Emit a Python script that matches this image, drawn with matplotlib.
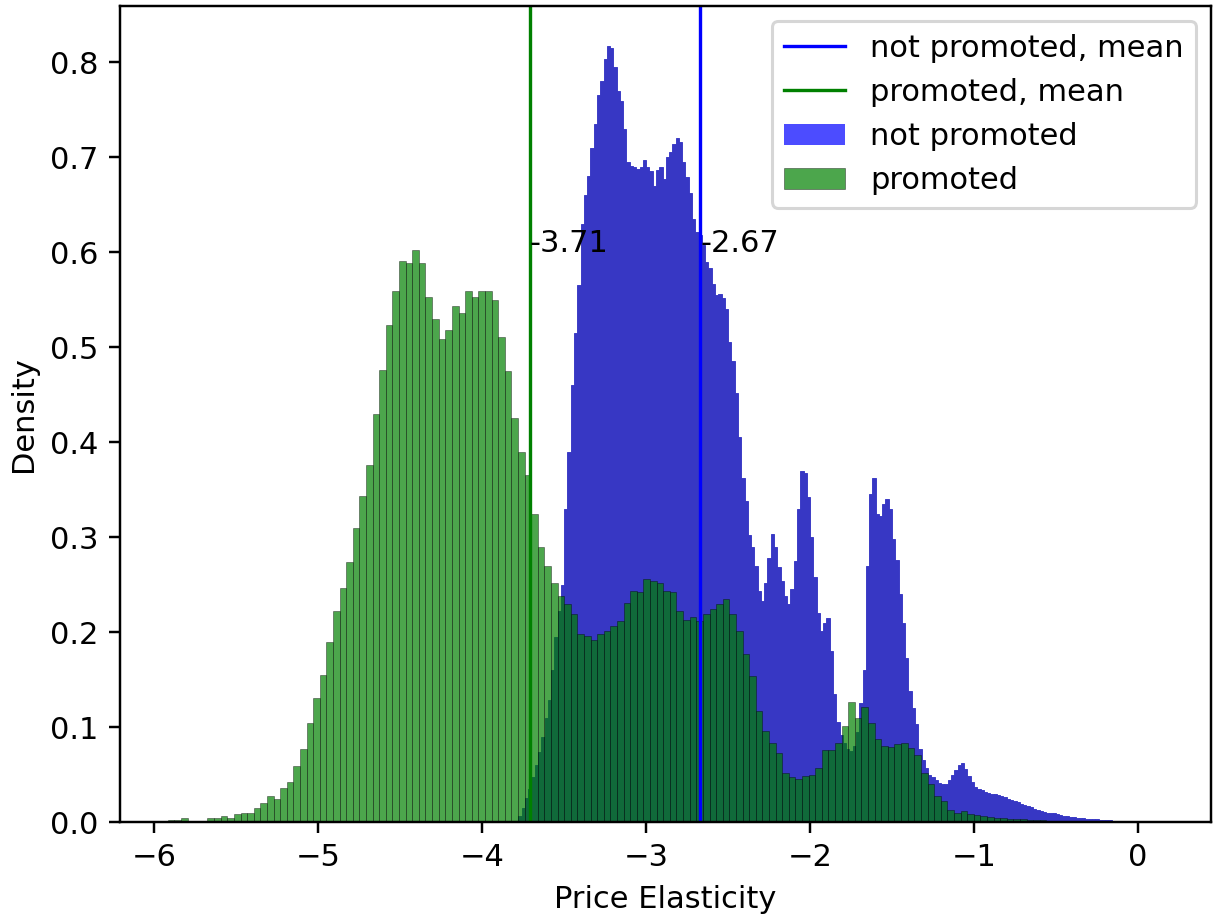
import numpy as np
import matplotlib
matplotlib.use("Agg")
import matplotlib.pyplot as plt
from matplotlib.colors import to_rgba
from matplotlib.lines import Line2D
from matplotlib.patches import Patch

# histogram bins (density)
promoted_bin_start = -5.918
promoted_bin_width = 0.0403
promoted_density = [
    0.002, 0.002, 0.004, 0.001, 0.001, 0.001, 0.004, 0.004, 0.006, 0.004,
    0.008, 0.010, 0.010, 0.015, 0.020, 0.027, 0.024, 0.036, 0.042, 0.059,
    0.077, 0.104, 0.131, 0.155, 0.190, 0.222, 0.246, 0.274, 0.309, 0.343,
    0.376, 0.429, 0.476, 0.523, 0.559, 0.591, 0.588, 0.602, 0.588, 0.553,
    0.529, 0.508, 0.518, 0.543, 0.536, 0.559, 0.553, 0.559, 0.559, 0.550,
    0.511, 0.475, 0.425, 0.390, 0.365, 0.324, 0.290, 0.270, 0.252, 0.238,
    0.229, 0.219, 0.198, 0.196, 0.192, 0.198, 0.201, 0.206, 0.212, 0.231,
    0.243, 0.242, 0.256, 0.254, 0.252, 0.243, 0.242, 0.222, 0.213, 0.216,
    0.212, 0.219, 0.224, 0.229, 0.235, 0.219, 0.201, 0.177, 0.154, 0.117,
    0.096, 0.083, 0.073, 0.052, 0.047, 0.045, 0.048, 0.050, 0.057, 0.076,
    0.076, 0.083, 0.101, 0.126, 0.110, 0.121, 0.104, 0.087, 0.080, 0.079,
    0.082, 0.083, 0.078, 0.071, 0.052, 0.040, 0.027, 0.022, 0.013, 0.010,
    0.012, 0.008, 0.007, 0.006, 0.005, 0.004, 0.004, 0.003, 0.003, 0.003,
    0.002, 0.002, 0.002, 0.001, 0.001,
]

not_promoted_bin_start = -3.78
not_promoted_bin_width = 0.02
not_promoted_density = [
    0.006, 0.015, 0.025, 0.035, 0.047, 0.060, 0.074, 0.090, 0.110, 0.128,
    0.160, 0.195, 0.222, 0.250, 0.330, 0.390, 0.460, 0.515, 0.565, 0.630,
    0.660, 0.680, 0.710, 0.735, 0.765, 0.780, 0.803, 0.817, 0.815, 0.795,
    0.769, 0.759, 0.730, 0.695, 0.691, 0.689, 0.687, 0.690, 0.697, 0.689,
    0.685, 0.670, 0.686, 0.689, 0.677, 0.700, 0.705, 0.714, 0.720, 0.716,
    0.695, 0.679, 0.662, 0.635, 0.621, 0.618, 0.607, 0.590, 0.583, 0.566,
    0.555, 0.556, 0.552, 0.540, 0.505, 0.485, 0.452, 0.405, 0.362, 0.338,
    0.302, 0.290, 0.270, 0.243, 0.233, 0.252, 0.278, 0.303, 0.290, 0.268,
    0.254, 0.238, 0.230, 0.245, 0.275, 0.330, 0.369, 0.367, 0.342, 0.300,
    0.258, 0.220, 0.201, 0.210, 0.215, 0.180, 0.135, 0.105, 0.092, 0.083,
    0.077, 0.075, 0.080, 0.095, 0.125, 0.160, 0.270, 0.345, 0.362, 0.324,
    0.322, 0.335, 0.340, 0.330, 0.298, 0.276, 0.240, 0.210, 0.173, 0.138,
    0.120, 0.103, 0.077, 0.065, 0.057, 0.050, 0.047, 0.044, 0.041, 0.040,
    0.040, 0.044, 0.049, 0.055, 0.060, 0.062, 0.056, 0.048, 0.042, 0.037,
    0.035, 0.034, 0.032, 0.031, 0.030, 0.029, 0.028, 0.027, 0.026, 0.024,
    0.023, 0.022, 0.021, 0.019, 0.018, 0.017, 0.016, 0.014, 0.013, 0.012,
    0.011, 0.010, 0.010, 0.009, 0.008, 0.007, 0.006, 0.006, 0.005, 0.005,
    0.004, 0.004, 0.004, 0.003, 0.003, 0.003, 0.003, 0.002, 0.002, 0.002,
    0.002,
]

mean_not_promoted = -2.67
mean_promoted = -3.71

x_ticks = [-6, -5, -4, -3, -2, -1, 0]
y_ticks = [0.0, 0.1, 0.2, 0.3, 0.4, 0.5, 0.6, 0.7, 0.8]

W, H, DPI = 1213, 916, 220
fig = plt.figure(figsize=(W / DPI, H / DPI), dpi=DPI)
ax = fig.add_axes([120 / W, 94 / H, 1091 / W, 816 / H])

blue_fc = to_rgba("blue", 0.7)
green_fc = to_rgba("green", 0.7)
# the very fine blue bins with their thin black edges read as a darker blue
blue_dense = (0.215, 0.215, 0.77, 1.0)

nb = len(not_promoted_density)
blue_left = not_promoted_bin_start + not_promoted_bin_width * np.arange(nb)
ax.bar(blue_left, not_promoted_density, width=not_promoted_bin_width, align="edge",
       facecolor=blue_dense, edgecolor=blue_dense, linewidth=0.3)

ng = len(promoted_density)
green_left = promoted_bin_start + promoted_bin_width * np.arange(ng)
ax.bar(green_left, promoted_density, width=promoted_bin_width, align="edge",
       facecolor=green_fc, edgecolor=(0, 0, 0, 0.6), linewidth=0.2)

ax.axvline(mean_not_promoted, color="blue", lw=1.1)
ax.axvline(mean_promoted, color="green", lw=1.1)
ax.text(mean_promoted, 0.6, f"{mean_promoted:.2f}")
ax.text(mean_not_promoted, 0.6, f"{mean_not_promoted:.2f}")

ax.set_xlim(-6.21, 0.446)
ax.set_ylim(0, 0.859)
ax.set_xticks(x_ticks)
ax.set_yticks(y_ticks)
ax.set_xlabel("Price Elasticity")
ax.set_ylabel("Density")

handles = [
    Line2D([], [], color="blue", lw=1.1),
    Line2D([], [], color="green", lw=1.1),
    Patch(facecolor=blue_fc, edgecolor="none"),
    Patch(facecolor=green_fc, edgecolor=(0, 0, 0, 0.6), linewidth=0.2),
]
labels = ["not promoted, mean", "promoted, mean", "not promoted", "promoted"]
ax.legend(handles, labels, loc="upper right")

fig.savefig("out.png", dpi=DPI)
